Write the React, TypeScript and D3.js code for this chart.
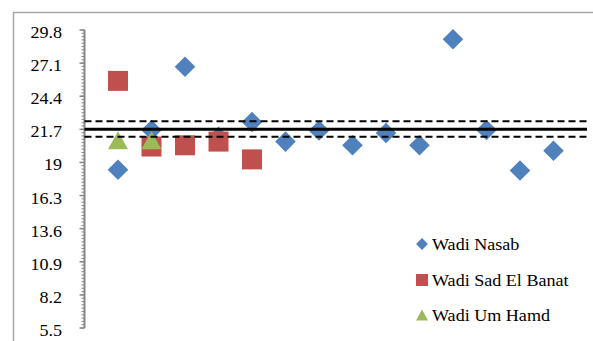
import React from "react";
import * as d3 from "d3";

const W = 593;
const H = 341;

const yTicks = [5.5, 8.2, 10.9, 13.6, 16.3, 19, 21.7, 24.4, 27.1, 29.8];
const yTickLabels = ["5.5", "8.2", "10.9", "13.6", "16.3", "19", "21.7", "24.4", "27.1", "29.8"];

const wadiNasab = [18.4, 21.65, 26.8, 21.1, 22.3, 20.7, 21.6, 20.4, 21.4, 20.4, 29.05, 21.65, 18.35, 19.95];
const wadiSadElBanat = [25.65, 20.3, 20.4, 20.7, 19.25];
const wadiUmHamd = [20.8, 20.8];

const meanLine = 21.7;
const upperLine = 22.35;
const lowerLine = 21.1;

const seriesNames = ["Wadi Nasab", "Wadi Sad El Banat", "Wadi Um Hamd"];
const colors = ["#4F81BD", "#C0504D", "#9BBB59"];

const FONT = "Liberation Serif";

export default function App() {
  const x = d3.scaleLinear().domain([0, 15]).range([84.5, 587]);
  const y = d3.scaleLinear().domain([5.5, 29.8]).range([328, 30]);

  const diamond = d3.symbol().type(d3.symbolDiamond2).size(270)();
  const legendDiamond = d3.symbol().type(d3.symbolDiamond2).size(90)();

  const minorStep = 0.27;
  const minorTicks: number[] = [];
  for (let i = 0; i <= 90; i++) minorTicks.push(5.5 + i * minorStep);

  const axisX = 84.5;
  const tri = (cx: number, cy: number, w: number, h: number) =>
    `M${cx},${cy - h / 2}L${cx + w / 2},${cy + h / 2}L${cx - w / 2},${cy + h / 2}Z`;

  const legendY = [244, 280, 315];
  const legendMarkX = 422;
  const legendTextX = 432;
  const textStyle = { fontFamily: FONT, fontSize: "16px" };

  return (
    <svg width={W} height={H} style={{ position: "absolute", left: 0, top: 0, background: "#fff" }}>
      <rect x={0} y={0} width={W} height={H} fill="#fff" />
      <rect x={13.5} y={12.5} width={700} height={500} fill="none" stroke="#a6a6a6" strokeWidth={1.5} />

      {/* y axis */}
      <line x1={axisX} x2={axisX} y1={y(29.8)} y2={y(5.5)} stroke="#868686" strokeWidth={2} />
      {minorTicks.map((v, i) => (
        <line key={"m" + i} x1={axisX - 3} x2={axisX} y1={y(v)} y2={y(v)} stroke="#868686" strokeWidth={1} />
      ))}
      {yTicks.map((v, i) => (
        <g key={"t" + i}>
          <line x1={axisX - 5} x2={axisX} y1={y(v)} y2={y(v)} stroke="#868686" strokeWidth={1.5} />
          <text
            transform={`translate(62,${y(v) + 8}) scale(1.13,1)`}
            textAnchor="end"
            style={textStyle}
            fill="#000"
          >
            {yTickLabels[i]}
          </text>
        </g>
      ))}

      {/* series */}
      {wadiNasab.map((v, i) => (
        <path key={"n" + i} d={diamond} transform={`translate(${x(i + 1)},${y(v)})`} fill={colors[0]} />
      ))}
      {wadiSadElBanat.map((v, i) => (
        <rect key={"s" + i} x={x(i + 1) - 10} y={y(v) - 10} width={20} height={20} fill={colors[1]} />
      ))}
      {wadiUmHamd.map((v, i) => (
        <path key={"u" + i} d={tri(x(i + 1), y(v), 20, 18)} fill={colors[2]} />
      ))}

      {/* reference lines */}
      <line x1={x(0)} x2={x(15)} y1={y(meanLine)} y2={y(meanLine)} stroke="#000" strokeWidth={3} />
      <line x1={x(0)} x2={x(15)} y1={y(upperLine)} y2={y(upperLine)} stroke="#000" strokeWidth={2} strokeDasharray="7,4" />
      <line x1={x(0)} x2={x(15)} y1={y(lowerLine)} y2={y(lowerLine)} stroke="#000" strokeWidth={2} strokeDasharray="7,4" />

      {/* legend */}
      <path d={legendDiamond} transform={`translate(${legendMarkX},${legendY[0]})`} fill={colors[0]} />
      <rect x={legendMarkX - 6} y={legendY[1] - 6} width={12} height={12} fill={colors[1]} />
      <path d={tri(legendMarkX, legendY[2], 12, 11)} fill={colors[2]} />
      {seriesNames.map((n, i) => (
        <text
          key={"l" + i}
          transform={`translate(${legendTextX},${legendY[i] + 5.5}) scale(1.13,1)`}
          style={textStyle}
          fill="#000"
        >
          {n}
        </text>
      ))}
    </svg>
  );
}
